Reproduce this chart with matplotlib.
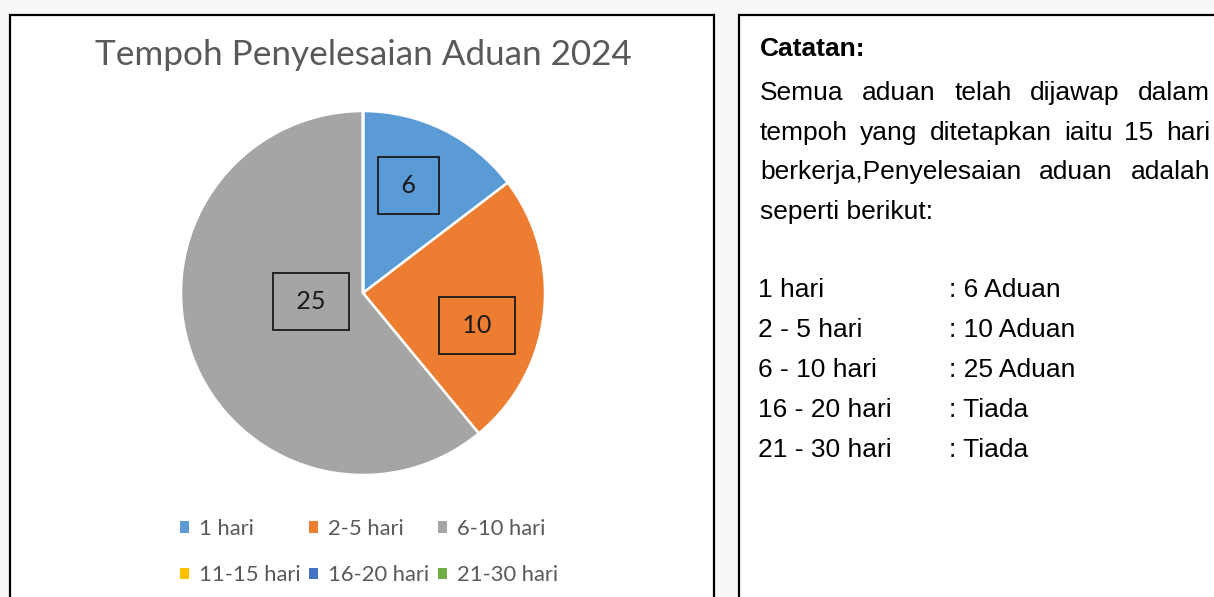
import matplotlib
matplotlib.use("Agg")
import matplotlib.pyplot as plt
from matplotlib.patches import Rectangle, Patch
import numpy as np

# ---- data ----
categories = ["1 hari", "2-5 hari", "6-10 hari", "11-15 hari", "16-20 hari", "21-30 hari"]
values = [6, 10, 25, 0, 0, 0]
colors = ["#5B9BD5", "#ED7D31", "#A5A5A5", "#FFC000", "#4472C4", "#70AD47"]
title = "Tempoh Penyelesaian Aduan 2024"

note_title = "Catatan:"
note_lines = ["Semua aduan telah dijawap dalam",
              "tempoh yang ditetapkan iaitu 15 hari",
              "berkerja,Penyelesaian aduan adalah",
              "seperti berikut:"]
list_left = ["1 hari", "2 - 5 hari", "6 - 10 hari", "16 - 20 hari", "21 - 30 hari"]
list_right = [": 6 Aduan", ": 10 Aduan", ": 25 Aduan", ": Tiada", ": Tiada"]

W, H = 1214, 597
fig = plt.figure(figsize=(W / 100, H / 100), dpi=100)
fig.patch.set_facecolor("#f8f8f8")

def fx(px):
    return px / W

def fy(py):
    return 1 - py / H

# panel boxes
for (x0, x1, y0) in [(10, 714, 15), (739, 1230, 15)]:
    fig.add_artist(Rectangle((fx(x0), fy(610)), fx(x1) - fx(x0), fy(y0) - fy(610),
                             transform=fig.transFigure, facecolor="white",
                             edgecolor="black", linewidth=1.6, zorder=0))

# ---- pie ----
cx, cy, r = 363, 293, 182
ax = fig.add_axes([fx(cx - r), fy(cy + r), fx(2 * r), fy(cy - r) - fy(cy + r)])
wedges, _ = ax.pie(values, colors=colors, startangle=90, counterclock=False,
                   radius=1, wedgeprops=dict(edgecolor="white", linewidth=1.8))
ax.set_xlim(-1, 1)
ax.set_ylim(-1, 1)
ax.set_aspect("equal")
ax.axis("off")

# label placement (radius fraction, angle in degrees) - style only
label_pos = [(0.64, 67), (0.65, -16), (0.29, 189)]
for v, (lr, la) in zip(values[:3], label_pos):
    t = np.deg2rad(la)
    ax.text(lr * np.cos(t), lr * np.sin(t), f" {v} ", ha="center", va="center",
            fontsize=18, family="Lato", color="#1a1a1a",
            bbox=dict(boxstyle="square,pad=0.68", facecolor="none",
                      edgecolor="#1a1a1a", linewidth=1.3))

fig.text(fx(363), fy(55), title, ha="center", va="center", fontsize=25.3,
         family="Lato", color="#595959")

handles = [Patch(facecolor=c, edgecolor="none") for c in colors]
order = [0, 3, 1, 4, 2, 5]
fig.legend([handles[i] for i in order], [categories[i] for i in order],
           loc="center", bbox_to_anchor=(fx(369), fy(552)), ncol=3, frameon=False,
           prop=dict(family="Lato", size=15.8), labelcolor="#595959",
           handlelength=0.4, handleheight=0.4, handletextpad=0.45,
           columnspacing=0.4, labelspacing=1.2)

# ---- notes ----
fs = 19
fig.text(fx(760), fy(56), note_title, ha="left", va="baseline", fontsize=fs,
         family="Liberation Sans", weight="bold", color="black")

renderer = fig.canvas.get_renderer()
left_px, right_px = 760, 1210
baselines = [100, 140, 179, 219]
for i, line in enumerate(note_lines):
    if i == len(note_lines) - 1:
        fig.text(fx(left_px), fy(baselines[i]), line, ha="left", va="baseline",
                 fontsize=fs, family="Liberation Sans", color="black")
        continue
    words = line.split(" ")
    widths = []
    for w in words:
        t = fig.text(0, 0, w, fontsize=fs, family="Liberation Sans")
        widths.append(t.get_window_extent(renderer).width)
        t.remove()
    gap = (right_px - left_px - sum(widths)) / (len(words) - 1)
    x = left_px
    for w, wd in zip(words, widths):
        fig.text(fx(x), fy(baselines[i]), w, ha="left", va="baseline",
                 fontsize=fs, family="Liberation Sans", color="black")
        x += wd + gap

for i, (a, b) in enumerate(zip(list_left, list_right)):
    yb = 297 + 40 * i
    fig.text(fx(758), fy(yb), a, ha="left", va="baseline", fontsize=fs,
             family="Liberation Sans", color="black")
    fig.text(fx(949), fy(yb), b, ha="left", va="baseline", fontsize=fs,
             family="Liberation Sans", color="black")

fig.savefig("out.png", dpi=100, facecolor=fig.get_facecolor())
